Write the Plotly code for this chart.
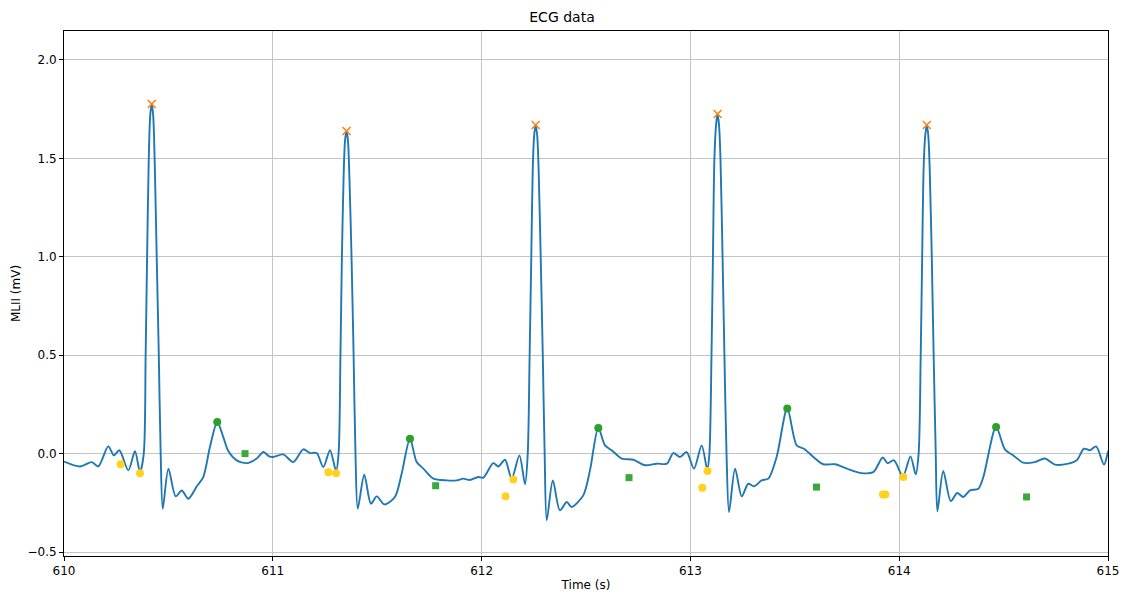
import plotly.graph_objects as go

# ECG trace (time in s, amplitude in mV)
time_s = [
    610.000, 610.077, 610.133, 610.164, 610.212, 610.239, 610.265, 610.308, 610.340, 610.364,
    610.382, 610.391, 610.398, 610.406, 610.413, 610.420, 610.427, 610.434, 610.444, 610.454, 610.463, 610.473,
    610.500, 610.535, 610.564, 610.595, 610.636, 610.667, 610.699, 610.734, 610.763, 610.787, 610.827, 610.875,
    610.923, 610.955, 610.983, 611.002, 611.050, 611.098, 611.146, 611.178, 611.210, 611.242, 611.274, 611.303,
    611.315, 611.324, 611.331, 611.339, 611.346, 611.353, 611.360, 611.367, 611.377, 611.387, 611.396, 611.407,
    611.438, 611.470, 611.498, 611.534, 611.585, 611.617, 611.657, 611.689, 611.721, 611.769, 611.833, 611.881,
    611.912, 611.944, 611.984, 612.008, 612.056, 612.080, 612.112, 612.144, 612.181, 612.208,
    612.221, 612.230, 612.238, 612.245, 612.252, 612.259, 612.266, 612.273, 612.283, 612.293, 612.302, 612.312,
    612.341, 612.375, 612.408, 612.431, 612.487, 612.519, 612.559, 612.591, 612.623, 612.671, 612.727, 612.783,
    612.839, 612.887, 612.918, 612.950, 612.982, 613.017, 613.054, 613.081,
    613.091, 613.101, 613.108, 613.115, 613.123, 613.130, 613.137, 613.144, 613.154, 613.163, 613.173, 613.185,
    613.214, 613.246, 613.277, 613.305, 613.341, 613.373, 613.413, 613.464, 613.509, 613.544, 613.589, 613.636,
    613.693, 613.749, 613.820, 613.876, 613.921, 613.944, 613.975, 614.018, 614.054, 614.079,
    614.093, 614.103, 614.110, 614.117, 614.125, 614.132, 614.139, 614.146, 614.156, 614.165, 614.175, 614.183,
    614.211, 614.247, 614.278, 614.307, 614.339, 614.379, 614.403, 614.464, 614.507, 614.547, 614.594, 614.650,
    614.698, 614.746, 614.810, 614.850, 614.885, 614.914, 614.943, 614.981, 615.000, 615.010,
]
mlii_mv = [
    -0.040, -0.065, -0.043, -0.065, 0.037, -0.009, 0.017, -0.085, 0.012, -0.094,
    0.0, 0.5, 1.0, 1.5, 1.72, 1.776, 1.72, 1.5, 1.0, 0.5, 0.0, -0.280,
    -0.076, -0.217, -0.187, -0.229, -0.166, -0.119, 0.034, 0.161, 0.084, 0.013, -0.034, -0.048,
    -0.025, 0.008, -0.014, -0.017, -0.004, -0.043, 0.022, 0.003, 0.003, -0.068, 0.017, -0.088,
    0.0, 0.5, 1.0, 1.4, 1.59, 1.639, 1.59, 1.4, 1.0, 0.5, 0.0, -0.280,
    -0.107, -0.254, -0.217, -0.258, -0.220, -0.102, 0.076, -0.043, -0.076, -0.127, -0.136, -0.136,
    -0.127, -0.134, -0.119, -0.122, -0.048, -0.065, -0.031, -0.127, -0.009, -0.156,
    0.0, 0.5, 1.0, 1.45, 1.62, 1.669, 1.62, 1.45, 1.0, 0.5, 0.0, -0.339,
    -0.136, -0.288, -0.246, -0.271, -0.212, -0.085, 0.130, 0.042, 0.017, -0.025, -0.031, -0.059,
    -0.051, -0.051, 0.003, -0.017, 0.008, -0.076, 0.042, -0.081,
    0.0, 0.5, 1.0, 1.5, 1.67, 1.725, 1.67, 1.5, 1.0, 0.5, 0.0, -0.297,
    -0.076, -0.217, -0.153, -0.166, -0.136, -0.127, -0.017, 0.229, 0.042, 0.025, -0.017, -0.054,
    -0.054, -0.076, -0.099, -0.094, -0.020, -0.048, -0.034, -0.115, -0.014, -0.105,
    0.0, 0.5, 1.0, 1.45, 1.62, 1.669, 1.62, 1.45, 1.0, 0.5, 0.0, -0.293,
    -0.088, -0.241, -0.200, -0.220, -0.187, -0.178, -0.119, 0.135, 0.020, -0.009, -0.046, -0.043,
    -0.025, -0.056, -0.051, -0.034, 0.025, 0.017, 0.037, -0.056, 0.008, 0.030,
]

# R peaks (orange crosses)
r_time = [610.420, 611.353, 612.259, 613.130, 614.132]
r_amp = [1.776, 1.639, 1.669, 1.725, 1.669]

# yellow circle markers
p_time = [610.271, 610.364, 611.266, 611.303, 612.115, 612.152, 613.057, 613.082, 613.922, 613.934, 614.020]
p_amp = [-0.054, -0.099, -0.094, -0.099, -0.217, -0.132, -0.173, -0.088, -0.208, -0.208, -0.119]

# T peaks (green circles)
t_time = [610.734, 611.657, 612.559, 613.464, 614.464]
t_amp = [0.161, 0.076, 0.130, 0.229, 0.135]

# T ends (green squares)
te_time = [610.867, 611.780, 612.706, 613.604, 614.610]
te_amp = [0.0, -0.163, -0.122, -0.170, -0.220]

x_ticks = [610, 611, 612, 613, 614, 615]
y_ticks = [-0.5, 0.0, 0.5, 1.0, 1.5, 2.0]
y_tick_text = ["\u22120.5", "0.0", "0.5", "1.0", "1.5", "2.0"]

fig = go.Figure()
fig.add_trace(go.Scatter(x=time_s, y=mlii_mv, mode="lines",
                         line=dict(color="#1f77b4", width=1.9, shape="spline", smoothing=0.8),
                         hoverinfo="skip"))
fig.add_trace(go.Scatter(x=r_time, y=r_amp, mode="markers",
                         marker=dict(symbol="x-thin", size=8, line=dict(color="#ff7f0e", width=1.5))))
fig.add_trace(go.Scatter(x=p_time, y=p_amp, mode="markers",
                         marker=dict(symbol="circle", size=8, color="#ffd21f")))
fig.add_trace(go.Scatter(x=t_time, y=t_amp, mode="markers",
                         marker=dict(symbol="circle", size=8, color="#2ca02c")))
fig.add_trace(go.Scatter(x=te_time, y=te_amp, mode="markers",
                         marker=dict(symbol="square", size=7, color="#3aa83a")))

axis_common = dict(showline=True, linecolor="black", linewidth=1, mirror=True,
                   ticks="outside", ticklen=4, tickcolor="black", automargin=False,
                   showgrid=True, gridcolor="#c4c4c4", gridwidth=1, zeroline=False,
                   tickfont=dict(family="DejaVu Sans", size=12, color="black"))

fig.update_layout(
    width=1124, height=595,
    paper_bgcolor="white", plot_bgcolor="white",
    margin=dict(l=64, r=16, t=31, b=39),
    showlegend=False,
    title=dict(text="ECG data", x=0.5, xanchor="center", y=0.971, yanchor="middle",
               font=dict(family="DejaVu Sans", size=14, color="black")),
    xaxis=dict(range=[610, 615], tickvals=x_ticks, ticktext=[str(v) for v in x_ticks],
               ticklabeloverflow="allow",
               title=dict(text="Time (s)", standoff=3, font=dict(family="DejaVu Sans", size=12, color="black")),
               **axis_common),
    yaxis=dict(range=[-0.52, 2.147], tickvals=y_ticks, ticktext=y_tick_text,
               title=dict(text="MLII (mV)", standoff=4, font=dict(family="DejaVu Sans", size=12, color="black")),
               **axis_common),
)

fig.write_html("out.html", config={"displayModeBar": False},
               post_script="document.body.style.margin='0';document.body.style.overflow='hidden';")
